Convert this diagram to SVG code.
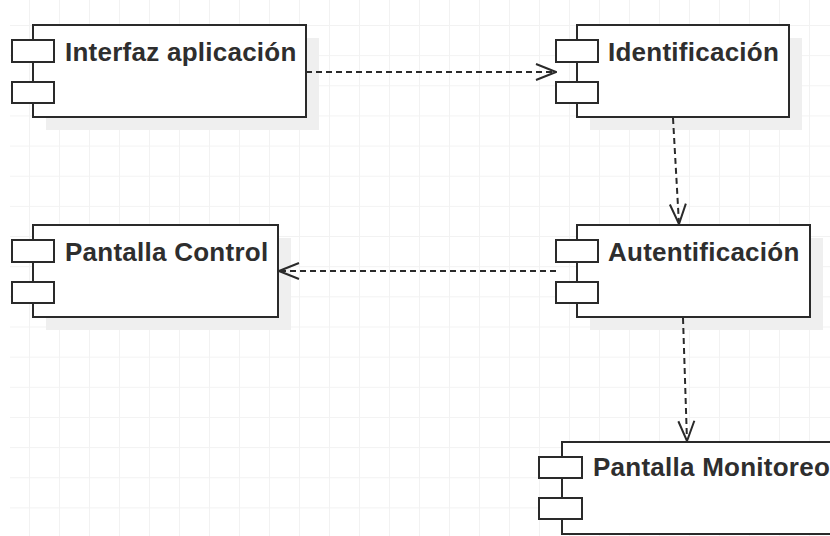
<svg xmlns="http://www.w3.org/2000/svg" width="830" height="536" viewBox="0 0 830 536">
  <defs>
    <pattern id="grid" x="29" y="25" width="30" height="30.15" patternUnits="userSpaceOnUse">
      <rect width="30" height="30.15" fill="#ffffff"/>
      <line x1="0" y1="0" x2="30" y2="0" stroke="#f2f2f2" stroke-width="2"/>
      <line x1="0" y1="0" x2="0" y2="30.15" stroke="#f2f2f2" stroke-width="2"/>
    </pattern>
    <marker id="open" viewBox="0 0 22 20" refX="21" refY="10" markerWidth="22" markerHeight="20" markerUnits="userSpaceOnUse" orient="auto">
      <path d="M1,2 L21,10 L1,18" fill="none" stroke="#2a2a2a" stroke-width="2"/>
    </marker>
  </defs>
  <style>
    .shadow { fill: #efefef; }
    .box { fill: #ffffff; stroke: #2a2a2a; stroke-width: 2; }
    .port { fill: #ffffff; stroke: #2a2a2a; stroke-width: 2; }
    .label { font-family: "Liberation Sans", Arial, sans-serif; font-weight: bold; font-size: 26px; letter-spacing: 0.25px; fill: #2e2e2e; }
    .dep { fill: none; stroke: #2a2a2a; stroke-width: 2; stroke-dasharray: 6 4; marker-end: url(#open); }
  </style>
  <rect width="830" height="536" fill="#ffffff"/>
  <rect x="10" y="0" width="820" height="536" fill="url(#grid)"/>

  <g id="interfaz-aplicacion">
    <rect class="shadow" x="46" y="38" width="273" height="92"/>
    <rect class="box" x="33" y="25" width="273" height="92"/>
    <rect class="port" x="12" y="40" width="42" height="22"/>
    <rect class="port" x="12" y="82" width="42" height="21"/>
    <text class="label" x="65" y="61">Interfaz aplicación</text>
  </g>

  <g id="identificacion">
    <rect class="shadow" x="590" y="38" width="212" height="92"/>
    <rect class="box" x="577" y="25" width="212" height="92"/>
    <rect class="port" x="556" y="40" width="42" height="22"/>
    <rect class="port" x="556" y="82" width="42" height="21"/>
    <text class="label" x="608" y="61">Identificación</text>
  </g>

  <g id="pantalla-control">
    <rect class="shadow" x="46" y="238" width="245" height="92"/>
    <rect class="box" x="33" y="225" width="245" height="92"/>
    <rect class="port" x="12" y="240" width="42" height="22"/>
    <rect class="port" x="12" y="282" width="42" height="21"/>
    <text class="label" x="65" y="261">Pantalla Control</text>
  </g>

  <g id="autentificacion">
    <rect class="shadow" x="590" y="238" width="233" height="92"/>
    <rect class="box" x="577" y="225" width="233" height="92"/>
    <rect class="port" x="556" y="240" width="42" height="22"/>
    <rect class="port" x="556" y="282" width="42" height="21"/>
    <text class="label" x="608" y="261">Autentificación</text>
  </g>

  <g id="pantalla-monitoreo">
    <rect class="box" x="562" y="442" width="300" height="92"/>
    <rect class="port" x="539" y="457" width="43" height="21"/>
    <rect class="port" x="539" y="498" width="43" height="21"/>
    <text class="label" x="593" y="476">Pantalla Monitoreo</text>
  </g>

  <g id="connectors">
    <path class="dep" d="M306,72 L556,72"/>
    <path class="dep" d="M673,118 L679,224"/>
    <path class="dep" d="M556,271 L279,271"/>
    <path class="dep" d="M683,318 L687,441"/>
  </g>
</svg>
